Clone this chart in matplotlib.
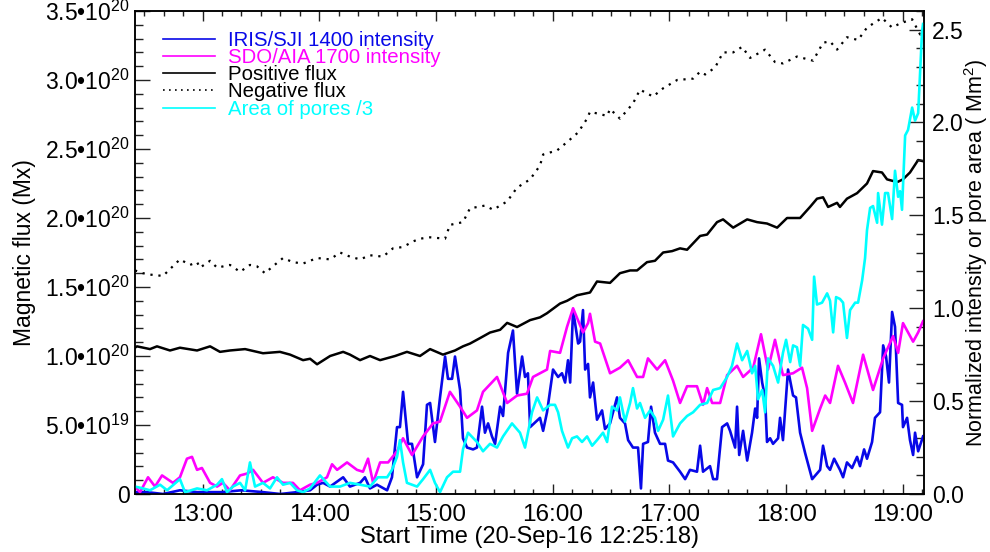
import matplotlib
matplotlib.use('Agg')
import matplotlib.pyplot as plt
from matplotlib.ticker import FixedLocator, MultipleLocator

plt.rcParams['font.family'] = ['Liberation Sans', 'DejaVu Sans']
plt.rcParams['mathtext.fontset'] = 'custom'
plt.rcParams['mathtext.rm'] = 'Liberation Sans'
plt.rcParams['mathtext.it'] = 'Liberation Sans:italic'

# ---------------- data (time in minutes since 12:00 UT, 20-Sep-16) -------------
pos_t = [25.3, 26.3, 33.0, 36.6, 43.3, 48.4, 57.2, 63.9, 69.0, 74.1, 81.9, 91.1, 99.8,
         105.0, 111.7, 115.3, 118.9, 125.6, 132.3, 135.8, 141.0, 146.1, 151.3, 159.0,
         165.1, 171.8, 177.0, 183.6, 189.8, 193.9, 197.5, 202.7, 207.8, 213.0, 216.6,
         221.7, 228.4, 233.5, 237.1, 243.8, 247.4, 252.5, 259.2, 262.8, 269.5, 274.6,
         279.8, 283.4, 288.5, 292.6, 296.8, 301.4, 305.5, 309.1, 315.8, 319.4, 324.5,
         327.6, 332.8, 340.0, 345.1, 350.2, 355.4, 360.5, 367.2, 372.3, 375.9, 379.0,
         381.6, 386.2, 387.7, 391.3, 396.5, 401.6, 404.7, 409.3, 411.9, 417.1, 420.1,
         423.7, 427.9, 430.9]
pos_flux = [1.06, 1.07, 1.05, 1.07, 1.04, 1.06, 1.04, 1.07, 1.03, 1.04, 1.05, 1.02, 1.03,
            1.01, 0.97, 0.98, 0.94, 1.00, 1.03, 1.01, 0.97, 1.00, 0.97, 1.00,
            1.03, 1.00, 1.05, 1.01, 1.04, 1.07, 1.09, 1.13, 1.17, 1.19, 1.24,
            1.21, 1.26, 1.28, 1.31, 1.38, 1.40, 1.44, 1.46, 1.54, 1.53, 1.60,
            1.62, 1.62, 1.68, 1.69, 1.75, 1.76, 1.78, 1.77, 1.87, 1.88, 1.97,
            1.99, 1.93, 1.99, 1.97, 1.96, 1.93, 2.00, 2.00, 2.08, 2.14, 2.15,
            2.08, 2.11, 2.08, 2.14, 2.18, 2.25, 2.34, 2.33, 2.28, 2.26, 2.28,
            2.33, 2.42, 2.41]  # units of 1e20 Mx

neg_t = [25.3, 29.4, 33.0, 39.7, 43.3, 48.4, 53.6, 57.2, 58.7, 63.9, 67.5, 74.1, 79.3,
         84.4, 88.0, 92.1, 96.2, 101.4, 106.5, 111.7, 118.9, 125.6, 130.7, 135.8, 141.0,
         146.1, 152.8, 157.9, 163.1, 168.2, 171.8, 177.0, 184.7, 187.2, 193.9, 197.5,
         205.2, 209.4, 216.6, 221.7, 228.4, 233.5, 235.1, 242.3, 247.4, 253.1, 257.7,
         259.2, 268.0, 269.5, 274.6, 281.3, 284.9, 291.6, 296.8, 304.0, 312.2, 315.8,
         318.4, 323.5, 327.6, 332.8, 337.4, 341.5, 349.2, 354.3, 358.4, 365.6, 373.9,
         379.0, 382.6, 386.2, 391.3, 397.0, 401.6, 409.3, 414.5, 418.6, 424.8, 428.9, 430.9]
neg_flux = [1.62, 1.60, 1.59, 1.58, 1.63, 1.70, 1.66, 1.68, 1.64, 1.69, 1.64, 1.66, 1.61,
            1.66, 1.65, 1.60, 1.65, 1.71, 1.68, 1.67, 1.71, 1.70, 1.75, 1.72, 1.70,
            1.73, 1.72, 1.78, 1.79, 1.83, 1.85, 1.86, 1.85, 1.95, 1.97, 2.07,
            2.09, 2.06, 2.12, 2.22, 2.28, 2.38, 2.46, 2.49, 2.55, 2.62, 2.72,
            2.77, 2.74, 2.79, 2.72, 2.83, 2.93, 2.88, 2.94, 3.00, 3.01, 3.06,
            3.04, 3.09, 3.20, 3.20, 3.24, 3.16, 3.22, 3.13, 3.12, 3.17, 3.14,
            3.27, 3.28, 3.22, 3.31, 3.29, 3.38, 3.45, 3.38, 3.41, 3.44, 3.33, 3.38]

aia_t = [25.3, 27.9, 32.0, 35.6, 39.2, 44.8, 48.4, 52.0, 54.6, 57.2, 59.7, 63.9, 67.5,
         70.5, 74.1, 79.3, 82.9, 86.0, 91.1, 96.2, 101.4, 106.5, 110.1, 115.3, 118.9,
         124.0, 126.6, 129.2, 134.3, 139.4, 142.5, 145.1, 147.7, 151.3, 155.4, 160.0,
         163.1, 167.7, 173.4, 178.5, 182.1, 187.2, 192.4, 196.0, 201.1, 204.2, 211.4,
         216.6, 221.7, 226.8, 229.9, 237.1, 238.7, 243.8, 247.4, 250.5, 255.6, 258.2,
         259.2, 261.8, 264.4, 269.5, 274.6, 278.8, 283.4, 286.5, 289.0, 293.7, 297.8,
         301.9, 305.5, 309.1, 314.2, 317.3, 319.4, 322.0, 326.1, 329.7, 334.8, 337.9,
         343.1, 347.1, 350.7, 354.3, 358.4, 363.6, 368.2, 370.8, 373.4, 377.5, 380.1,
         382.6, 386.7, 390.3, 394.4, 399.6, 404.7, 409.9, 415.0, 417.6, 420.1, 425.3,
         427.9, 430.4]
aia = [0.04, 0.01, 0.09, 0.04, 0.10, 0.06, 0.09, 0.19, 0.20, 0.13, 0.14, 0.06, 0.04,
       0.06, 0.02, 0.10, 0.11, 0.13, 0.06, 0.09, 0.06, 0.06, 0.02, 0.05, 0.06,
       0.09, 0.16, 0.13, 0.17, 0.13, 0.12, 0.19, 0.06, 0.17, 0.17, 0.23,
       0.30, 0.21, 0.31, 0.38, 0.39, 0.55, 0.47, 0.41, 0.45, 0.55, 0.63,
       0.49, 0.53, 0.54, 0.63, 0.67, 0.77, 0.76, 0.90, 1.00, 0.87, 0.92,
       0.97, 0.82, 0.81, 0.65, 0.68, 0.72, 0.63, 0.63, 0.73, 0.67, 0.72,
       0.61, 0.49, 0.58, 0.58, 0.48, 0.57, 0.49, 0.49, 0.64, 0.69, 0.63,
       0.68, 0.86, 0.67, 0.83, 0.64, 0.65, 0.68, 0.57, 0.34, 0.46, 0.53,
       0.49, 0.69, 0.60, 0.49, 0.75, 0.56, 0.73, 0.85, 0.76, 0.92, 0.82,
       0.87, 0.93]

iris_t = [25.3, 31.5, 39.7, 48.4, 57.2, 70.0, 80.0, 91.1, 100.0, 108.6, 115.3, 118.9,
          122.0, 125.6, 132.3, 135.8, 141.0, 143.5, 146.1, 149.7, 154.9, 157.4, 160.0,
          161.5, 163.1, 165.7, 167.7, 170.3, 173.4, 175.4, 177.0, 179.5, 182.1, 184.7,
          186.2, 188.3, 189.8, 192.4, 193.9, 196.0, 199.1, 201.1, 203.7, 205.2, 206.8,
          208.8, 210.4, 213.0, 214.5, 217.1, 219.6, 221.7, 224.3, 225.8, 227.3, 228.4,
          233.5, 235.1, 237.1, 240.2, 242.8, 244.8, 246.4, 247.9, 249.0, 250.5, 253.1,
          254.1, 255.6, 256.7, 258.2, 259.2, 260.8, 262.8, 265.4, 266.9, 269.5, 273.1,
          274.6, 277.2, 278.8, 281.3, 283.9, 285.4, 286.5, 289.0, 290.6, 292.6, 295.2,
          297.8, 299.3, 301.9, 305.5, 308.1, 310.6, 314.2, 315.8, 317.3, 320.9, 322.5,
          324.5, 327.1, 329.7, 331.2, 333.8, 334.8, 335.9, 337.9, 340.0, 342.5, 344.1,
          345.1, 346.1, 347.7, 349.2, 350.2, 351.8, 353.3, 355.9, 356.9, 358.4, 361.0,
          363.6, 365.1, 367.2, 369.8, 373.4, 377.5, 379.0, 381.1, 382.6, 384.7, 387.7,
          389.3, 391.3, 393.9, 396.5, 398.0, 400.1, 401.6, 404.2, 405.7, 408.3, 409.9,
          411.4, 412.9, 414.5, 416.0, 417.6, 419.6, 420.1, 422.2, 423.7, 425.3, 426.3,
          427.9, 430.4]
iris = [0.01, 0.01, 0.00, 0.02, 0.01, 0.01, 0.02, 0.01, 0.00, 0.01, 0.02, 0.05,
        0.06, 0.04, 0.09, 0.04, 0.06, 0.09, 0.03, 0.05, 0.02, 0.09, 0.36,
        0.36, 0.55, 0.27, 0.27, 0.09, 0.16, 0.48, 0.49, 0.28, 0.52, 0.74,
        0.62, 0.62, 0.74, 0.56, 0.30, 0.25, 0.24, 0.25, 0.47, 0.33, 0.38,
        0.31, 0.27, 0.47, 0.42, 0.76, 0.88, 0.54, 0.74, 0.63, 0.65, 0.36,
        0.41, 0.34, 0.44, 0.67, 0.63, 0.65, 0.60, 0.72, 0.60, 0.99, 0.81,
        0.82, 0.99, 0.67, 0.70, 0.52, 0.60, 0.40, 0.45, 0.35, 0.38, 0.52,
        0.41, 0.38, 0.29, 0.25, 0.25, 0.03, 0.27, 0.28, 0.47, 0.33, 0.27,
        0.27, 0.18, 0.17, 0.12, 0.08, 0.13, 0.12, 0.26, 0.12, 0.15, 0.08,
        0.08, 0.36, 0.38, 0.34, 0.25, 0.47, 0.21, 0.34, 0.18, 0.33, 0.46,
        0.41, 0.73, 0.60, 0.52, 0.28, 0.30, 0.27, 0.30, 0.41, 0.29, 0.67,
        0.53, 0.52, 0.33, 0.22, 0.08, 0.13, 0.26, 0.15, 0.13, 0.19, 0.13,
        0.09, 0.17, 0.14, 0.20, 0.15, 0.24, 0.19, 0.28, 0.41, 0.44, 0.80,
        0.74, 0.60, 0.98, 0.90, 0.49, 0.48, 0.36, 0.41, 0.29, 0.21, 0.33,
        0.23, 0.31]

pore_t = [25.3, 29.4, 33.0, 38.2, 41.8, 48.4, 51.0, 57.2, 62.3, 67.5, 70.0, 72.6, 75.7,
          79.3, 81.9, 84.4, 87.0, 91.1, 94.7, 98.3, 101.4, 105.0, 108.6, 111.7, 115.3,
          120.4, 125.6, 130.7, 135.8, 141.0, 146.1, 150.2, 154.9, 157.4, 160.0, 161.5,
          163.1, 165.1, 170.3, 173.4, 177.0, 179.5, 182.1, 185.7, 188.8, 192.4, 193.9,
          196.5, 201.1, 204.2, 207.8, 211.4, 214.5, 219.1, 223.2, 225.8, 229.4, 232.0,
          235.1, 238.7, 241.2, 242.8, 244.8, 247.9, 250.0, 252.5, 255.1, 257.7, 260.3,
          262.8, 265.9, 268.0, 270.5, 273.1, 274.6, 277.2, 279.8, 281.3, 283.4, 284.9,
          287.5, 290.1, 292.6, 294.2, 296.8, 299.3, 301.9, 305.5, 309.1, 312.2, 315.8,
          319.4, 322.5, 326.1, 329.7, 332.2, 334.8, 337.4, 340.0, 341.5, 342.5, 344.1,
          345.6, 347.7, 349.2, 350.7, 353.3, 355.9, 358.4, 360.0, 362.1, 363.6, 365.6,
          367.2, 368.7, 371.3, 373.4, 374.4, 375.9, 378.5, 381.1, 382.6, 384.2, 385.7,
          387.7, 389.3, 391.3, 392.9, 395.5, 397.0, 399.1, 400.6, 401.6, 403.2, 404.7,
          406.8, 407.3, 409.3, 410.9, 412.4, 414.5, 416.0, 417.6, 418.6, 419.6, 421.2,
          422.7, 424.8, 426.3, 427.9, 429.9, 430.4]
pore = [0.04, 0.03, 0.02, 0.05, 0.02, 0.08, 0.01, 0.03, 0.02, 0.05, 0.08, 0.01, 0.04,
        0.06, 0.02, 0.17, 0.04, 0.06, 0.03, 0.09, 0.05, 0.06, 0.02, 0.01, 0.03,
        0.10, 0.04, 0.04, 0.06, 0.05, 0.04, 0.09, 0.09, 0.13, 0.20, 0.29,
        0.17, 0.06, 0.04, 0.08, 0.13, 0.06, 0.01, 0.09, 0.12, 0.12, 0.24,
        0.33, 0.28, 0.23, 0.27, 0.25, 0.31, 0.38, 0.33, 0.25, 0.44, 0.52,
        0.45, 0.48, 0.48, 0.44, 0.34, 0.25, 0.30, 0.31, 0.28, 0.31, 0.26,
        0.29, 0.33, 0.28, 0.47, 0.45, 0.52, 0.39, 0.49, 0.57, 0.46, 0.49,
        0.41, 0.45, 0.41, 0.34, 0.40, 0.53, 0.31, 0.38, 0.42, 0.44, 0.48,
        0.49, 0.56, 0.57, 0.63, 0.69, 0.81, 0.72, 0.77, 0.70, 0.65, 0.69,
        0.51, 0.56, 0.44, 0.73, 0.69, 0.60, 0.76, 0.83, 0.71, 0.80, 0.79,
        0.69, 0.91, 0.89, 0.83, 1.17, 1.02, 1.03, 1.08, 1.04, 0.87, 1.06,
        1.05, 1.03, 0.84, 0.99, 1.03, 1.03, 1.15, 1.27, 1.42, 1.54, 1.55,
        1.46, 1.62, 1.45, 1.62, 1.62, 1.48, 1.74, 1.60, 1.63, 1.53, 1.93,
        1.96, 2.08, 2.01, 2.05, 2.49, 2.53]

x_ticks = [60, 120, 180, 240, 300, 360, 420]
x_ticklabels = ['13:00', '14:00', '15:00', '16:00', '17:00', '18:00', '19:00']
x_range = [25.3, 430.9]

flux_ticks = [0, 0.5e20, 1.0e20, 1.5e20, 2.0e20, 2.5e20, 3.0e20, 3.5e20]
flux_ticklabels = ['0', '5.0•10$^{19}$', '1.0•10$^{20}$', '1.5•10$^{20}$',
                   '2.0•10$^{20}$', '2.5•10$^{20}$', '3.0•10$^{20}$', '3.5•10$^{20}$']
norm_ticks = [0.0, 0.5, 1.0, 1.5, 2.0, 2.5]
norm_ticklabels = ['0.0', '0.5', '1.0', '1.5', '2.0', '2.5']

# ---------------- figure ----------------
fig = plt.figure(figsize=(9.9, 5.52), dpi=100)
ax = fig.add_axes([135/990, 1-494/552, (924-135)/990, (494-11)/552])
ax2 = ax.twinx()

ln_pos, = ax.plot(pos_t, [v*1e20 for v in pos_flux], color='black', lw=1.8,
                  label='Positive flux')
ln_neg, = ax.plot(neg_t, [v*1e20 for v in neg_flux], color='black', lw=1.6,
                  linestyle=(0, (1, 2.6)), label='Negative flux')
ln_iris, = ax2.plot(iris_t, iris, color='#0808e8', lw=1.9, label='IRIS/SJI 1400 intensity')
ln_aia, = ax2.plot(aia_t, aia, color='#ff00ff', lw=1.9, label='SDO/AIA 1700 intensity')
ln_pore, = ax2.plot(pore_t, pore, color='#00ffff', lw=1.9, label='Area of pores /3')

ax.set_xlim(*x_range)
ax.set_ylim(0, 3.5e20)
ax2.set_ylim(0, 2.6)

ax.xaxis.set_major_locator(FixedLocator(x_ticks))
ax.set_xticklabels(x_ticklabels)
ax.xaxis.set_minor_locator(MultipleLocator(10))
ax.yaxis.set_major_locator(FixedLocator(flux_ticks))
ax.set_yticklabels(flux_ticklabels)
ax.yaxis.set_minor_locator(MultipleLocator(0.1e20))
ax2.yaxis.set_major_locator(FixedLocator(norm_ticks))
ax2.set_yticklabels(norm_ticklabels)
ax2.yaxis.set_minor_locator(MultipleLocator(0.1))

tc = '#222222'
ax.tick_params(axis='x', which='major', direction='in', length=7.5, width=1.0,
               top=True, bottom=True, labelsize=17.5, pad=7, color=tc)
ax.tick_params(axis='x', which='minor', direction='in', length=3.8, width=1.0,
               top=True, bottom=True, color=tc)
ax.tick_params(axis='y', which='major', direction='in', length=11, width=1.0,
               left=True, right=False, labelsize=16.5, pad=4, color=tc)
ax.tick_params(axis='y', which='minor', direction='in', length=5.8, width=1.0,
               left=True, right=False, color=tc)
ax2.tick_params(axis='y', which='major', direction='in', length=11, width=1.0,
                labelsize=16.5, pad=6, color=tc)
ax2.tick_params(axis='y', which='minor', direction='in', length=5.8, width=1.0, color=tc)

for a in (ax, ax2):
    for s in a.spines.values():
        s.set_linewidth(1.1)

ax.set_ylabel('Magnetic flux (Mx)', fontsize=16.5)
ax.yaxis.set_label_coords(-99/789, 0.5)
ax2.set_ylabel('Normalized intensity or pore area ( Mm$^2$)', fontsize=15.5)
ax2.yaxis.set_label_coords((962-135)/789, 0.5)
ax.set_xlabel('Start Time (20-Sep-16 12:25:18)', fontsize=17, labelpad=0)

leg = ax2.legend(handles=[ln_iris, ln_aia, ln_pos, ln_neg, ln_pore],
                 loc='upper left', bbox_to_anchor=(28/789, 1-20/483),
                 frameon=False, fontsize=14.7, handlelength=2.55, handletextpad=0.62,
                 labelspacing=-0.09, borderpad=0, borderaxespad=0,
                 labelcolor=['#0808e8', '#ff00ff', 'black', 'black', '#00ffff'])
for h in leg.get_lines():
    h.set_linewidth(1.2)

fig.savefig('out.png', dpi=100)
